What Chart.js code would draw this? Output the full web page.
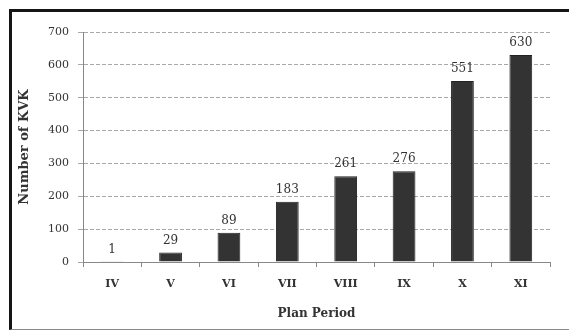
<!DOCTYPE html>
<html><head><meta charset="utf-8">
<script src="https://cdn.jsdelivr.net/npm/chart.js@4/dist/chart.umd.min.js"></script>
<style>
html,body{margin:0;padding:0;background:#fff;overflow:hidden;}
#wrap{position:relative;width:569px;height:330px;}
#frame{position:absolute;left:9px;top:9px;width:620px;height:317px;border-top:3px solid #151515;border-left:3px solid #151515;border-bottom:1px solid #8a8a8a;pointer-events:none;}
canvas{position:absolute;left:0;top:0;}
</style></head><body>
<div id="wrap"><canvas id="c" width="569" height="330"></canvas><div id="frame"></div></div>
<script>
const categories = ["IV","V","VI","VII","VIII","IX","X","XI"];
const kvkCounts = [1,29,89,183,261,276,551,630];
const yTicks = [0,100,200,300,400,500,600,700];

const FONT = "'DejaVu Serif', 'Liberation Serif', serif";
const labelPlugin = {
  id: 'valueLabels',
  afterDatasetsDraw(chart){
    const ctx = chart.ctx;
    const meta = chart.getDatasetMeta(0);
    ctx.save();
    ctx.font = "12px " + FONT;
    ctx.fillStyle = "#333";
    ctx.textAlign = "center";
    ctx.textBaseline = "bottom";
    meta.data.forEach((bar, i) => {
      ctx.fillText(String(kvkCounts[i]), bar.x, bar.y - 6);
    });
    ctx.restore();
  }
};

new Chart(document.getElementById('c'), {
  type: 'bar',
  data: {
    labels: categories,
    datasets: [{
      data: kvkCounts,
      backgroundColor: '#333333',
      borderColor: '#222222',
      borderWidth: 1,
      categoryPercentage: 1,
      barPercentage: 0.39
    }]
  },
  options: {
    responsive: false,
    animation: false,
    events: [],
    layout: { padding: { left: 12, top: 32, right: 19, bottom: 0 } },
    plugins: { legend: { display: false }, tooltip: { enabled: false } },
    scales: {
      x: {
        grid: { display: true, drawOnChartArea: false, drawTicks: true, tickLength: 5, color: '#888', offset: true },
        border: { display: true, color: '#888', width: 1 },
        ticks: { color: '#333', font: { family: FONT, size: 11, weight: 'bold' }, padding: 11 },
        title: { display: true, text: 'Plan Period', color: '#333', font: { family: FONT, size: 12, weight: 'bold' }, padding: { top: 8, bottom: 9 } },
        afterFit(s){ s.height = 68; }
      },
      y: {
        min: 0, max: 700,
        afterBuildTicks(s){ s.ticks = yTicks.map(v => ({ value: v })); },
        grid: { color: '#a8a8a8', tickLength: 5, drawTicks: true },
        border: { display: true, color: '#888', width: 1, dash: [4, 2] },
        ticks: { color: '#333', font: { family: FONT, size: 11 }, padding: 9 },
        title: { display: true, text: 'Number of KVK', color: '#333', font: { family: FONT, size: 13, weight: 'bold' }, padding: { top: 5, bottom: 4 } },
        afterFit(s){ s.width = 71; }
      }
    }
  },
  plugins: [labelPlugin]
});
</script>
</body></html>
